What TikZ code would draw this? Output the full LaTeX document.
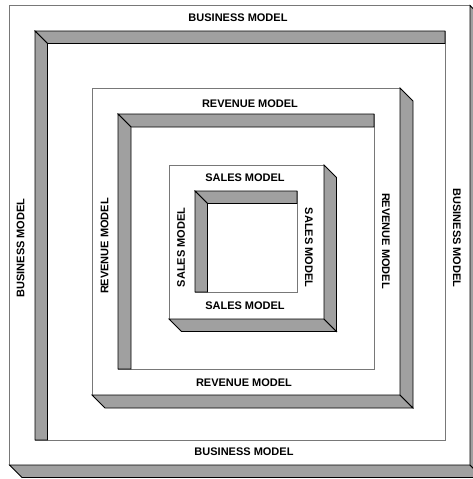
\documentclass[tikz,border=0pt]{standalone}
\usepackage{fontspec}
\setmainfont{Liberation Sans}
\definecolor{slabgray}{RGB}{160,160,160}
\definecolor{edgegray}{RGB}{120,120,120}
\tikzset{
	slab/.style={fill=slabgray, draw=black, line width=0.8pt},
	face/.style={fill=white, draw=edgegray, line width=0.8pt},
	lbl/.style={font=\fontsize{11}{13}\selectfont\bfseries, inner sep=0pt},
}

\begin{document}
\begin{tikzpicture}[x=1pt,y=-1pt]
				\useasboundingbox (0,0) rectangle (472,479);
				
				% each level: raised frame, then sunken frame inside it
				\foreach \bxa/\bya/\bxb/\byb/\rxa/\rya/\rxb/\ryb/\d in {
					9.5/5.5/470/465/35/31/445/440/12.5,
					92/88/400/395/118/114/374/369/13,
					169/165/324/319/195/191/297/292/12.5} {
					\draw[face] (\bxa,\bya) rectangle (\bxb,\byb);
					\draw[slab] (\bxa,\byb) -- (\bxb,\byb) -- (\bxb+\d,\byb+\d) -- (\bxa+\d,\byb+\d) -- cycle;
					\draw[slab] (\bxb,\bya) -- (\bxb+\d,\bya+\d) -- (\bxb+\d,\byb+\d) -- (\bxb,\byb) -- cycle;
					\draw[face] (\rxa,\rya) rectangle (\rxb,\ryb);
					\draw[slab] (\rxa,\rya) -- (\rxb,\rya) -- (\rxb,\rya+\d) -- (\rxa+\d,\rya+\d) -- cycle;
					\draw[slab] (\rxa,\rya) -- (\rxa+\d,\rya+\d) -- (\rxa+\d,\ryb) -- (\rxa,\ryb) -- cycle;
				}
				
				\node[lbl] (bmtop) at (238,18) {BUSINESS MODEL};
				\node[lbl] (bmbot) at (244,452) {BUSINESS MODEL};
				\node[lbl, rotate=90] (bmleft) at (20.5,248) {BUSINESS MODEL};
				\node[lbl, rotate=-90] (bmright) at (457,238) {BUSINESS MODEL};
				
				\node[lbl] (rmtop) at (250,104) {REVENUE MODEL};
				\node[lbl] (rmbot) at (244,383) {REVENUE MODEL};
				\node[lbl, rotate=90] (rmleft) at (104.5,246) {REVENUE MODEL};
				\node[lbl, rotate=-90] (rmright) at (386,241) {REVENUE MODEL};
				
				\node[lbl] (smtop) at (245,177.5) {SALES MODEL};
				\node[lbl] (smbot) at (245,306) {SALES MODEL};
				\node[lbl, rotate=90] (smleft) at (181,247.5) {SALES MODEL};
				\node[lbl, rotate=-90] (smright) at (309,247.5) {SALES MODEL};
			\end{tikzpicture}
\end{document}
